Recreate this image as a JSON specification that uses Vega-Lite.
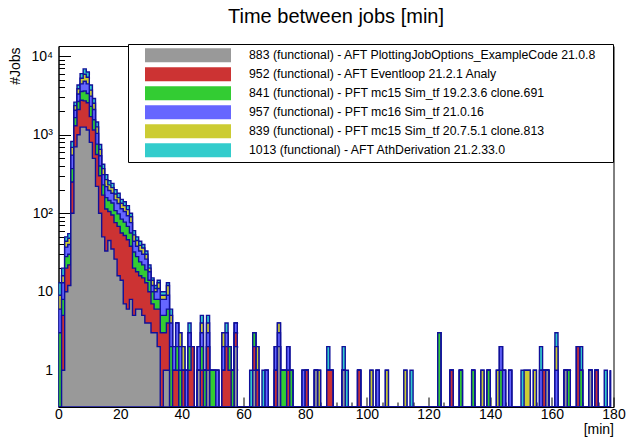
{
  "$schema": "https://vega.github.io/schema/vega-lite/v6.json",
  "autosize": {"type": "none"},
  "width": 555,
  "height": 361,
  "padding": {"left": 58.5, "top": 46, "right": 12.5, "bottom": 30},
  "background": "white",
  "view": {"stroke": "black", "strokeWidth": 1},
  "title": {"text": "Time between jobs [min]", "font": "Liberation Sans", "fontSize": 20, "fontWeight": "normal", "color": "black", "anchor": "middle", "frame": "group", "offset": 17},
  "config": {
    "axis": {"labelFont": "Liberation Sans", "labelFontSize": 14, "labelColor": "black", "titleFont": "Liberation Sans", "titleFontSize": 14, "titleFontWeight": "normal", "titleColor": "black", "domainColor": "black", "tickColor": "black", "grid": false}
  },
  "data": {"values": [
    {"t":0,"s1":0,"s2":0,"s3":3,"s4":3,"s5":3,"s6":4},
    {"t":1,"s1":1,"s2":4,"s3":3,"s4":5,"s5":3,"s6":4},
    {"t":2,"s1":10,"s2":10,"s3":8,"s4":9,"s5":7,"s6":6},
    {"t":3,"s1":12,"s2":10,"s3":8,"s4":10,"s5":8,"s6":7},
    {"t":4,"s1":100,"s2":150,"s3":120,"s4":180,"s5":140,"s6":130},
    {"t":5,"s1":700,"s2":600,"s3":350,"s4":400,"s5":300,"s6":250},
    {"t":6,"s1":1000,"s2":1100,"s3":550,"s4":650,"s5":550,"s6":450},
    {"t":7,"s1":1250,"s2":1500,"s3":800,"s4":900,"s5":800,"s6":750},
    {"t":8,"s1":1250,"s2":1450,"s3":900,"s4":1200,"s5":1100,"s6":1000},
    {"t":9,"s1":1150,"s2":1400,"s3":800,"s4":1100,"s5":950,"s6":900},
    {"t":10,"s1":800,"s2":900,"s3":600,"s4":800,"s5":600,"s6":600},
    {"t":11,"s1":500,"s2":650,"s3":400,"s4":550,"s5":420,"s6":380},
    {"t":12,"s1":220,"s2":340,"s3":200,"s4":280,"s5":220,"s6":190},
    {"t":13,"s1":100,"s2":200,"s3":100,"s4":140,"s5":110,"s6":100},
    {"t":14,"s1":50,"s2":120,"s3":60,"s4":80,"s5":60,"s6":50},
    {"t":15,"s1":33,"s2":80,"s3":45,"s4":60,"s5":50,"s6":42},
    {"t":16,"s1":45,"s2":60,"s3":40,"s4":50,"s5":35,"s6":30},
    {"t":17,"s1":35,"s2":60,"s3":40,"s4":45,"s5":32,"s6":28},
    {"t":18,"s1":26,"s2":50,"s3":32,"s4":40,"s5":28,"s6":24},
    {"t":19,"s1":16,"s2":52,"s3":30,"s4":35,"s5":25,"s6":22},
    {"t":20,"s1":14,"s2":42,"s3":28,"s4":30,"s5":20,"s6":16},
    {"t":21,"s1":7,"s2":45,"s3":25,"s4":28,"s5":20,"s6":15},
    {"t":22,"s1":6,"s2":40,"s3":22,"s4":25,"s5":18,"s6":14},
    {"t":23,"s1":8,"s2":30,"s3":18,"s4":20,"s5":14,"s6":10},
    {"t":24,"s1":5,"s2":15,"s3":12,"s4":12,"s5":9,"s6":7},
    {"t":25,"s1":6,"s2":12,"s3":10,"s4":10,"s5":7,"s6":5},
    {"t":26,"s1":6,"s2":10,"s3":8,"s4":9,"s5":6,"s6":5},
    {"t":27,"s1":5,"s2":10,"s3":7,"s4":8,"s5":6,"s6":4},
    {"t":28,"s1":4,"s2":9,"s3":6,"s4":7,"s5":4,"s6":3},
    {"t":29,"s1":4,"s2":6,"s3":4,"s4":4,"s5":2,"s6":2},
    {"t":30,"s1":3,"s2":4,"s3":3,"s4":2,"s5":2,"s6":1},
    {"t":31,"s1":3,"s2":3,"s3":2,"s4":2,"s5":1,"s6":1},
    {"t":32,"s1":2,"s2":4,"s3":2,"s4":3,"s5":2,"s6":1},
    {"t":33,"s1":0,"s2":3,"s3":2,"s4":3,"s5":1,"s6":1},
    {"t":34,"s1":1,"s2":2,"s3":2,"s4":3,"s5":1,"s6":1},
    {"t":35,"s1":1,"s2":3,"s3":2,"s4":3,"s5":3,"s6":1},
    {"t":36,"s1":0,"s2":0,"s3":2,"s4":2,"s5":1,"s6":1},
    {"t":37,"s1":0,"s2":1,"s3":0,"s4":1,"s5":0,"s6":0},
    {"t":38,"s1":0,"s2":1,"s3":1,"s4":2,"s5":0,"s6":0},
    {"t":39,"s1":0,"s2":0,"s3":1,"s4":1,"s5":1,"s6":0},
    {"t":40,"s1":0,"s2":1,"s3":0,"s4":0,"s5":1,"s6":0},
    {"t":41,"s1":0,"s2":0,"s3":0,"s4":1,"s5":0,"s6":0},
    {"t":42,"s1":0,"s2":1,"s3":1,"s4":1,"s5":0,"s6":1},
    {"t":43,"s1":0,"s2":2,"s3":0,"s4":0,"s5":0,"s6":0},
    {"t":44,"s1":0,"s2":0,"s3":0,"s4":0,"s5":0,"s6":0},
    {"t":45,"s1":1,"s2":0,"s3":0,"s4":1,"s5":0,"s6":0},
    {"t":46,"s1":0,"s2":1,"s3":1,"s4":1,"s5":1,"s6":1},
    {"t":47,"s1":0,"s2":0,"s3":1,"s4":0,"s5":0,"s6":0},
    {"t":48,"s1":1,"s2":1,"s3":0,"s4":1,"s5":1,"s6":1},
    {"t":49,"s1":0,"s2":0,"s3":1,"s4":0,"s5":0,"s6":0},
    {"t":50,"s1":0,"s2":0,"s3":1,"s4":0,"s5":0,"s6":0},
    {"t":51,"s1":0,"s2":0,"s3":0,"s4":1,"s5":0,"s6":0},
    {"t":52,"s1":0,"s2":0,"s3":0,"s4":0,"s5":0,"s6":0},
    {"t":53,"s1":0,"s2":1,"s3":0,"s4":1,"s5":1,"s6":0},
    {"t":54,"s1":0,"s2":2,"s3":0,"s4":1,"s5":0,"s6":1},
    {"t":55,"s1":0,"s2":1,"s3":1,"s4":0,"s5":0,"s6":0},
    {"t":56,"s1":0,"s2":0,"s3":1,"s4":0,"s5":0,"s6":0},
    {"t":57,"s1":2,"s2":1,"s3":0,"s4":1,"s5":0,"s6":0},
    {"t":58,"s1":0,"s2":0,"s3":0,"s4":0,"s5":0,"s6":0},
    {"t":59,"s1":0,"s2":0,"s3":0,"s4":0,"s5":0,"s6":0},
    {"t":60,"s1":0,"s2":0,"s3":0,"s4":0,"s5":0,"s6":0},
    {"t":61,"s1":0,"s2":0,"s3":0,"s4":0,"s5":0,"s6":0},
    {"t":62,"s1":0,"s2":0,"s3":0,"s4":0,"s5":0,"s6":1},
    {"t":63,"s1":1,"s2":1,"s3":1,"s4":0,"s5":0,"s6":0},
    {"t":64,"s1":0,"s2":1,"s3":0,"s4":0,"s5":1,"s6":0},
    {"t":65,"s1":0,"s2":0,"s3":0,"s4":0,"s5":0,"s6":0},
    {"t":66,"s1":0,"s2":0,"s3":0,"s4":0,"s5":0,"s6":1},
    {"t":67,"s1":0,"s2":0,"s3":0,"s4":1,"s5":0,"s6":0},
    {"t":68,"s1":0,"s2":0,"s3":0,"s4":0,"s5":0,"s6":0},
    {"t":69,"s1":0,"s2":0,"s3":0,"s4":0,"s5":0,"s6":0},
    {"t":70,"s1":0,"s2":1,"s3":0,"s4":1,"s5":0,"s6":0},
    {"t":71,"s1":2,"s2":0,"s3":0,"s4":1,"s5":1,"s6":0},
    {"t":72,"s1":0,"s2":0,"s3":1,"s4":0,"s5":0,"s6":0},
    {"t":73,"s1":0,"s2":0,"s3":1,"s4":0,"s5":0,"s6":0},
    {"t":74,"s1":0,"s2":1,"s3":0,"s4":1,"s5":0,"s6":0},
    {"t":75,"s1":0,"s2":0,"s3":1,"s4":0,"s5":0,"s6":0},
    {"t":76,"s1":0,"s2":0,"s3":0,"s4":0,"s5":0,"s6":0},
    {"t":77,"s1":0,"s2":0,"s3":0,"s4":0,"s5":0,"s6":0},
    {"t":78,"s1":0,"s2":0,"s3":0,"s4":0,"s5":0,"s6":0},
    {"t":79,"s1":0,"s2":0,"s3":0,"s4":1,"s5":0,"s6":0},
    {"t":80,"s1":0,"s2":1,"s3":0,"s4":0,"s5":0,"s6":0},
    {"t":81,"s1":0,"s2":0,"s3":0,"s4":0,"s5":0,"s6":0},
    {"t":82,"s1":0,"s2":0,"s3":0,"s4":0,"s5":0,"s6":0},
    {"t":83,"s1":1,"s2":0,"s3":0,"s4":0,"s5":0,"s6":0},
    {"t":84,"s1":0,"s2":0,"s3":0,"s4":0,"s5":1,"s6":0},
    {"t":85,"s1":0,"s2":0,"s3":0,"s4":0,"s5":0,"s6":0},
    {"t":86,"s1":0,"s2":0,"s3":0,"s4":0,"s5":0,"s6":0},
    {"t":87,"s1":0,"s2":1,"s3":0,"s4":0,"s5":0,"s6":1},
    {"t":88,"s1":0,"s2":1,"s3":0,"s4":0,"s5":0,"s6":0},
    {"t":89,"s1":0,"s2":0,"s3":0,"s4":0,"s5":0,"s6":0},
    {"t":90,"s1":0,"s2":0,"s3":0,"s4":0,"s5":0,"s6":0},
    {"t":91,"s1":0,"s2":0,"s3":0,"s4":0,"s5":0,"s6":0},
    {"t":92,"s1":1,"s2":0,"s3":0,"s4":0,"s5":0,"s6":1},
    {"t":93,"s1":0,"s2":0,"s3":0,"s4":0,"s5":0,"s6":1},
    {"t":94,"s1":0,"s2":0,"s3":0,"s4":0,"s5":0,"s6":0},
    {"t":95,"s1":0,"s2":0,"s3":0,"s4":0,"s5":0,"s6":0},
    {"t":96,"s1":0,"s2":0,"s3":0,"s4":0,"s5":0,"s6":0},
    {"t":97,"s1":0,"s2":1,"s3":0,"s4":0,"s5":0,"s6":0},
    {"t":98,"s1":0,"s2":0,"s3":0,"s4":0,"s5":0,"s6":0},
    {"t":99,"s1":0,"s2":0,"s3":0,"s4":0,"s5":0,"s6":0},
    {"t":100,"s1":0,"s2":0,"s3":0,"s4":0,"s5":0,"s6":0},
    {"t":101,"s1":0,"s2":0,"s3":0,"s4":0,"s5":1,"s6":0},
    {"t":102,"s1":0,"s2":0,"s3":0,"s4":0,"s5":0,"s6":0},
    {"t":103,"s1":0,"s2":0,"s3":0,"s4":1,"s5":0,"s6":0},
    {"t":104,"s1":0,"s2":0,"s3":0,"s4":0,"s5":0,"s6":0},
    {"t":105,"s1":0,"s2":0,"s3":0,"s4":0,"s5":0,"s6":0},
    {"t":106,"s1":0,"s2":0,"s3":0,"s4":0,"s5":1,"s6":0},
    {"t":107,"s1":0,"s2":0,"s3":0,"s4":0,"s5":0,"s6":0},
    {"t":108,"s1":0,"s2":0,"s3":0,"s4":0,"s5":0,"s6":0},
    {"t":109,"s1":0,"s2":0,"s3":0,"s4":0,"s5":0,"s6":0},
    {"t":110,"s1":0,"s2":0,"s3":0,"s4":0,"s5":0,"s6":0},
    {"t":111,"s1":0,"s2":0,"s3":0,"s4":0,"s5":0,"s6":0},
    {"t":112,"s1":0,"s2":0,"s3":0,"s4":0,"s5":1,"s6":0},
    {"t":113,"s1":0,"s2":0,"s3":0,"s4":0,"s5":0,"s6":0},
    {"t":114,"s1":0,"s2":0,"s3":0,"s4":0,"s5":0,"s6":1},
    {"t":115,"s1":0,"s2":0,"s3":0,"s4":0,"s5":0,"s6":0},
    {"t":116,"s1":0,"s2":0,"s3":0,"s4":0,"s5":0,"s6":0},
    {"t":117,"s1":0,"s2":0,"s3":0,"s4":0,"s5":0,"s6":0},
    {"t":118,"s1":0,"s2":0,"s3":0,"s4":0,"s5":0,"s6":0},
    {"t":119,"s1":0,"s2":0,"s3":0,"s4":0,"s5":0,"s6":0},
    {"t":120,"s1":0,"s2":0,"s3":0,"s4":0,"s5":0,"s6":0},
    {"t":121,"s1":0,"s2":0,"s3":0,"s4":0,"s5":0,"s6":0},
    {"t":122,"s1":0,"s2":0,"s3":0,"s4":0,"s5":0,"s6":0},
    {"t":123,"s1":0,"s2":0,"s3":3,"s4":0,"s5":0,"s6":0},
    {"t":124,"s1":0,"s2":0,"s3":0,"s4":0,"s5":0,"s6":0},
    {"t":125,"s1":0,"s2":0,"s3":0,"s4":0,"s5":0,"s6":0},
    {"t":126,"s1":0,"s2":0,"s3":0,"s4":0,"s5":0,"s6":0},
    {"t":127,"s1":0,"s2":1,"s3":0,"s4":0,"s5":0,"s6":0},
    {"t":128,"s1":0,"s2":0,"s3":0,"s4":0,"s5":0,"s6":0},
    {"t":129,"s1":0,"s2":0,"s3":0,"s4":0,"s5":0,"s6":0},
    {"t":130,"s1":0,"s2":0,"s3":1,"s4":0,"s5":0,"s6":0},
    {"t":131,"s1":0,"s2":0,"s3":0,"s4":0,"s5":0,"s6":0},
    {"t":132,"s1":0,"s2":0,"s3":0,"s4":0,"s5":0,"s6":0},
    {"t":133,"s1":0,"s2":0,"s3":0,"s4":0,"s5":0,"s6":0},
    {"t":134,"s1":0,"s2":0,"s3":1,"s4":0,"s5":0,"s6":0},
    {"t":135,"s1":0,"s2":0,"s3":0,"s4":0,"s5":0,"s6":0},
    {"t":136,"s1":0,"s2":0,"s3":0,"s4":0,"s5":0,"s6":0},
    {"t":137,"s1":0,"s2":0,"s3":0,"s4":0,"s5":1,"s6":0},
    {"t":138,"s1":0,"s2":0,"s3":0,"s4":0,"s5":0,"s6":0},
    {"t":139,"s1":0,"s2":0,"s3":1,"s4":0,"s5":0,"s6":0},
    {"t":140,"s1":0,"s2":0,"s3":0,"s4":0,"s5":0,"s6":0},
    {"t":141,"s1":0,"s2":0,"s3":0,"s4":0,"s5":0,"s6":0},
    {"t":142,"s1":0,"s2":0,"s3":0,"s4":0,"s5":1,"s6":0},
    {"t":143,"s1":0,"s2":0,"s3":1,"s4":1,"s5":0,"s6":0},
    {"t":144,"s1":0,"s2":0,"s3":0,"s4":1,"s5":0,"s6":0},
    {"t":145,"s1":0,"s2":0,"s3":0,"s4":0,"s5":0,"s6":0},
    {"t":146,"s1":0,"s2":0,"s3":0,"s4":1,"s5":0,"s6":0},
    {"t":147,"s1":0,"s2":0,"s3":0,"s4":0,"s5":0,"s6":0},
    {"t":148,"s1":0,"s2":0,"s3":0,"s4":0,"s5":0,"s6":0},
    {"t":149,"s1":0,"s2":0,"s3":0,"s4":0,"s5":0,"s6":0},
    {"t":150,"s1":0,"s2":0,"s3":0,"s4":0,"s5":0,"s6":1},
    {"t":151,"s1":0,"s2":0,"s3":0,"s4":0,"s5":1,"s6":0},
    {"t":152,"s1":0,"s2":0,"s3":0,"s4":0,"s5":1,"s6":0},
    {"t":153,"s1":0,"s2":0,"s3":0,"s4":0,"s5":0,"s6":0},
    {"t":154,"s1":0,"s2":0,"s3":0,"s4":0,"s5":1,"s6":0},
    {"t":155,"s1":0,"s2":0,"s3":0,"s4":0,"s5":0,"s6":0},
    {"t":156,"s1":0,"s2":0,"s3":0,"s4":1,"s5":0,"s6":1},
    {"t":157,"s1":0,"s2":1,"s3":0,"s4":0,"s5":0,"s6":0},
    {"t":158,"s1":1,"s2":0,"s3":0,"s4":0,"s5":0,"s6":0},
    {"t":159,"s1":0,"s2":0,"s3":0,"s4":0,"s5":0,"s6":0},
    {"t":160,"s1":0,"s2":0,"s3":0,"s4":0,"s5":0,"s6":0},
    {"t":161,"s1":0,"s2":0,"s3":0,"s4":1,"s5":1,"s6":1},
    {"t":162,"s1":0,"s2":0,"s3":0,"s4":0,"s5":0,"s6":0},
    {"t":163,"s1":0,"s2":0,"s3":0,"s4":0,"s5":0,"s6":0},
    {"t":164,"s1":1,"s2":0,"s3":0,"s4":0,"s5":0,"s6":0},
    {"t":165,"s1":0,"s2":0,"s3":1,"s4":0,"s5":0,"s6":0},
    {"t":166,"s1":0,"s2":0,"s3":0,"s4":0,"s5":0,"s6":0},
    {"t":167,"s1":0,"s2":0,"s3":0,"s4":0,"s5":0,"s6":0},
    {"t":168,"s1":0,"s2":2,"s3":0,"s4":0,"s5":0,"s6":0},
    {"t":169,"s1":0,"s2":0,"s3":1,"s4":0,"s5":0,"s6":1},
    {"t":170,"s1":0,"s2":0,"s3":0,"s4":0,"s5":0,"s6":0},
    {"t":171,"s1":0,"s2":0,"s3":0,"s4":0,"s5":0,"s6":0},
    {"t":172,"s1":1,"s2":0,"s3":0,"s4":0,"s5":0,"s6":0},
    {"t":173,"s1":0,"s2":0,"s3":0,"s4":0,"s5":0,"s6":0},
    {"t":174,"s1":0,"s2":1,"s3":0,"s4":0,"s5":0,"s6":0},
    {"t":175,"s1":0,"s2":0,"s3":0,"s4":0,"s5":0,"s6":0},
    {"t":176,"s1":0,"s2":0,"s3":0,"s4":0,"s5":0,"s6":0},
    {"t":177,"s1":0,"s2":0,"s3":0,"s4":0,"s5":0,"s6":1},
    {"t":178,"s1":0,"s2":0,"s3":0,"s4":0,"s5":0,"s6":0},
    {"t":179,"s1":0,"s2":0,"s3":1,"s4":0,"s5":0,"s6":0}
  ]},
  "transform": [
    {"fold": ["s1","s2","s3","s4","s5","s6"], "as": ["key","v"]},
    {"stack": "v", "groupby": ["t"], "sort": [{"field": "key", "order": "ascending"}], "as": ["lo","hi"]}
  ],
  "encoding": {
    "color": {
      "field": "key", "type": "nominal",
      "scale": {"domain": ["s1","s2","s3","s4","s5","s6"], "range": ["#999999","#cc3333","#33cc33","#6666ff","#cccc33","#33cccc"]},
      "legend": {
        "orient": "none", "legendX": 69.5, "legendY": -2, "title": "\u00a0", "titleOrient": "right", "titlePadding": 11, "titleFontSize": 12,
        "symbolType": "M-1,-0.163H1V0.163H-1Z", "symbolSize": 7396, "symbolStrokeWidth": 0, "symbolOffset": 15,
        "clipHeight": 18.5, "rowPadding": 0, "labelOffset": 18, "padding": 2,
        "labelFont": "Liberation Sans", "labelFontSize": 12.3, "labelColor": "black", "labelLimit": 0,
        "fillColor": "white", "strokeColor": "black",
        "labelExpr": "{'s1': '883 (functional) - AFT PlottingJobOptions_ExampleCode  21.0.8', 's2': '952 (functional) - AFT Eventloop 21.2.1 Analy', 's3': '841 (functional) - PFT mc15 Sim_tf 19.2.3.6 clone.691', 's4': '957 (functional) - PFT mc16 Sim_tf 21.0.16', 's5': '839 (functional) - PFT  mc15 Sim_tf 20.7.5.1 clone.813', 's6': '1013 (functional) - AFT AthDerivation 21.2.33.0'}[datum.label]"
      }
    }
  },
  "layer": [
    {
      "transform": [{"filter": "datum.key === 's6'"}],
      "mark": {"type": "area", "interpolate": "step-after", "orient": "vertical", "stroke": "#10109a", "strokeWidth": 1.4, "clip": true},
      "encoding": {
        "x": {"field": "t", "type": "quantitative", "scale": {"domain": [0, 180], "nice": false, "zero": false},
              "axis": {"orient": "bottom", "values": [0,20,40,60,80,100,120,140,160,180], "tickSize": -10, "labelPadding": 10, "labelFlush": false, "title": "[min]", "titleAnchor": "end", "titleAlign": "right", "titleBaseline": "alphabetic", "titleY": 26}},
        "y": {"field": "hi", "type": "quantitative", "scale": {"type": "log", "domain": [0.34, 13500], "nice": false, "clamp": true},
              "axis": {"orient": "left", "values": [1,10,100,1000,10000], "tickSize": -12, "labelPadding": 18, "labelExpr": "datum.value == 1 ? '1' : datum.value == 10 ? '10' : datum.value == 100 ? '10²' : datum.value == 1000 ? '10³' : '10⁴'", "title": "#Jobs", "titleAnchor": "end", "titleAlign": "right", "titleAngle": 270, "titleBaseline": "alphabetic", "titleX": -39.5, "titleY": 1}}
      }
    },
    {
      "transform": [{"filter": "datum.key === 's5'"}],
      "mark": {"type": "area", "interpolate": "step-after", "orient": "vertical", "stroke": "#10109a", "strokeWidth": 1.4, "clip": true},
      "encoding": {
        "x": {"field": "t", "type": "quantitative", "scale": {"domain": [0, 180], "nice": false, "zero": false},
              "axis": {"orient": "bottom", "values": [5,10,15,25,30,35,45,50,55,65,70,75,85,90,95,105,110,115,125,130,135,145,150,155,165,170,175], "tickSize": -5, "labels": false, "domain": false, "title": null}},
        "y": {"field": "hi", "type": "quantitative", "scale": {"type": "log", "domain": [0.34, 13500], "nice": false, "clamp": true},
              "axis": {"orient": "left", "values": [0.4,0.5,0.6,0.7,0.8,0.9,2,3,4,5,6,7,8,9,20,30,40,50,60,70,80,90,200,300,400,500,600,700,800,900,2000,3000,4000,5000,6000,7000,8000,9000], "tickSize": -6, "labels": false, "domain": false, "title": null}}
      }
    },
    {
      "transform": [{"filter": "datum.key === 's4'"}],
      "mark": {"type": "area", "interpolate": "step-after", "orient": "vertical", "stroke": "#10109a", "strokeWidth": 1.4, "clip": true},
      "encoding": {
        "x": {"field": "t", "type": "quantitative", "scale": {"domain": [0, 180], "nice": false, "zero": false}, "axis": null},
        "y": {"field": "hi", "type": "quantitative", "scale": {"type": "log", "domain": [0.34, 13500], "nice": false, "clamp": true}, "axis": null}
      }
    },
    {
      "transform": [{"filter": "datum.key === 's3'"}],
      "mark": {"type": "area", "interpolate": "step-after", "orient": "vertical", "stroke": "#10109a", "strokeWidth": 1.4, "clip": true},
      "encoding": {
        "x": {"field": "t", "type": "quantitative", "scale": {"domain": [0, 180], "nice": false, "zero": false}, "axis": null},
        "y": {"field": "hi", "type": "quantitative", "scale": {"type": "log", "domain": [0.34, 13500], "nice": false, "clamp": true}, "axis": null}
      }
    },
    {
      "transform": [{"filter": "datum.key === 's2'"}],
      "mark": {"type": "area", "interpolate": "step-after", "orient": "vertical", "stroke": "#10109a", "strokeWidth": 1.4, "clip": true},
      "encoding": {
        "x": {"field": "t", "type": "quantitative", "scale": {"domain": [0, 180], "nice": false, "zero": false}, "axis": null},
        "y": {"field": "hi", "type": "quantitative", "scale": {"type": "log", "domain": [0.34, 13500], "nice": false, "clamp": true}, "axis": null}
      }
    },
    {
      "transform": [{"filter": "datum.key === 's1'"}],
      "mark": {"type": "area", "interpolate": "step-after", "orient": "vertical", "stroke": "#10109a", "strokeWidth": 1.4, "clip": true},
      "encoding": {
        "x": {"field": "t", "type": "quantitative", "scale": {"domain": [0, 180], "nice": false, "zero": false}, "axis": null},
        "y": {"field": "hi", "type": "quantitative", "scale": {"type": "log", "domain": [0.34, 13500], "nice": false, "clamp": true}, "axis": null}
      }
    }
  ],
  "resolve": {"scale": {"x": "shared", "y": "shared", "color": "shared"}, "axis": {"x": "independent", "y": "independent"}}
}
